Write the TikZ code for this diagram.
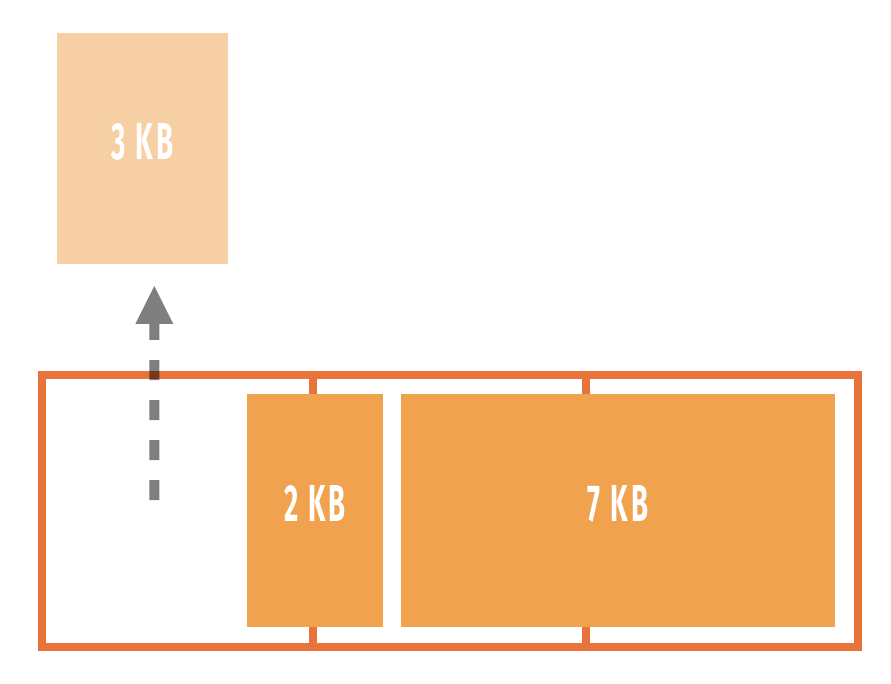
\documentclass[tikz,border=0pt]{standalone}
\usepackage{fontspec}
\setmainfont{Fira Sans}[FakeStretch=0.53, LetterSpace=6]
\usetikzlibrary{arrows.meta}
\definecolor{frameor}{HTML}{E8743B}
\definecolor{blockor}{HTML}{F0A24E}
\definecolor{lightor}{HTML}{F7CFA4}
\tikzset{
  frame/.style={draw=frameor, line width=8pt},
  block/.style={fill=#1, draw=none, inner sep=0pt, text=white,
    text height=33pt, text depth=11pt,
    font=\fontsize{52}{52}\selectfont\bfseries},
  movearrow/.style={draw=black, line width=10pt,
    dash pattern=on 20pt off 20pt,
    -{Triangle[length=38pt,width=38pt,line width=0pt,fill=black]}}
}
\begin{document}
\begin{tikzpicture}[x=1pt,y=-1pt]
\useasboundingbox (0,0) rectangle (891,684);
% frame
\draw[frame] (41.5,375) rectangle (858,647);
\draw[frame] (313,379) -- (313,394);
\draw[frame] (313,627) -- (313,643);
\draw[frame] (585.7,379) -- (585.7,394);
\draw[frame] (585.7,627) -- (585.7,643);
% blocks
\node[block=blockor, minimum width=136pt, minimum height=233pt] (b2) at (315,510.5) {2 KB};
\node[block=blockor, minimum width=434pt, minimum height=233pt] (b7) at (618,510.5) {7 KB};
\node[block=lightor, minimum width=170.5pt, minimum height=231pt] (b3) at (142.5,148.8) {3 KB};
% arrow
\coordinate (src) at (154.3,500);
\coordinate (dst) at (154.3,286);
\begin{scope}[transparency group, opacity=0.5]
\draw[movearrow] (src) -- (dst);
\end{scope}
\end{tikzpicture}
\end{document}
